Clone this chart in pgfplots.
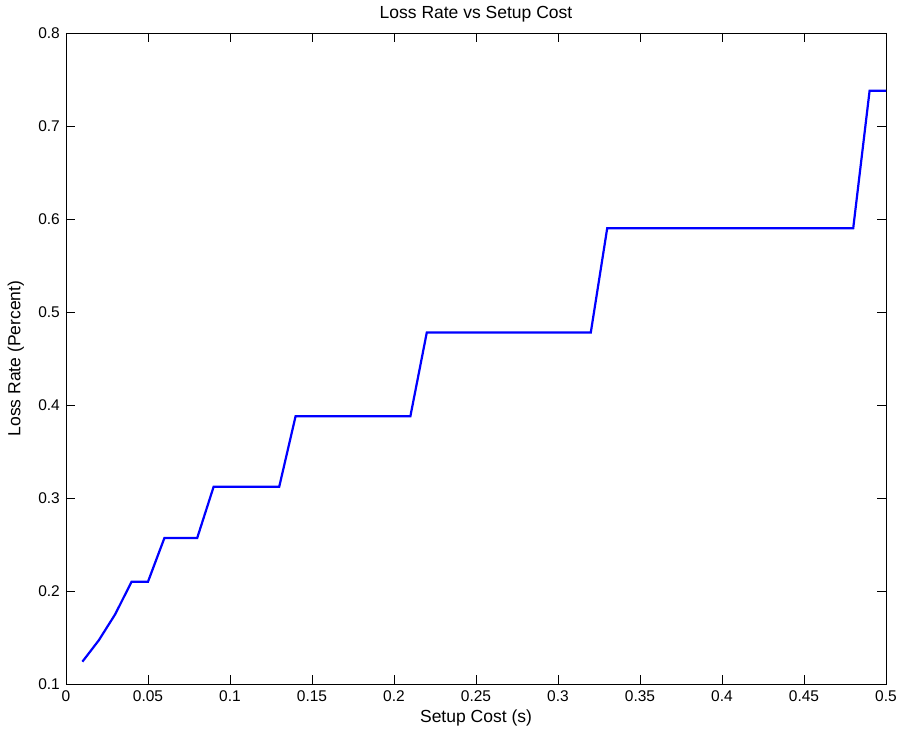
\documentclass[border=0pt]{standalone}
\usepackage{pgfplots}
\pgfplotsset{compat=1.18}
\usepackage{fontspec}
\setmainfont{Liberation Sans}
\begin{document}
\fontsize{15bp}{18bp}\selectfont
\begin{tikzpicture}
\begin{axis}[
  at={(0,0)}, anchor=south west,
  scale only axis,
  width=820bp, height=651bp,
  xmin=0, xmax=0.5, ymin=0.1, ymax=0.8,
  xtick={0,0.05,...,0.5001},
  ytick={0.1,0.2,...,0.8001},
  tick align=inside,
  major tick length=9bp,
  axis line style={line width=0.9bp},
  tick style={line width=0.8bp, black},
  /pgf/number format/assume math mode=true,
  /pgf/number format/fixed,
  /pgf/number format/precision=2,
  ticklabel style={font=\fontsize{15.5bp}{18bp}\selectfont},
  xticklabel style={yshift=-1bp},
  yticklabel style={xshift=-1bp},
  title={Loss Rate vs Setup Cost},
  title style={font=\fontsize{17.5bp}{20bp}\selectfont, yshift=0bp},
  xlabel={Setup Cost (s)},
  ylabel={Loss Rate (Percent)},
  label style={font=\fontsize{17.5bp}{20bp}\selectfont},
  xlabel style={yshift=2bp},
  ylabel style={yshift=4bp},
]
\addplot[color={rgb,1:red,0;green,0;blue,1}, line width=2.2bp, line join=miter] coordinates {
(0.01,0.124) (0.02,0.147) (0.03,0.175) (0.04,0.210) (0.05,0.210)
(0.06,0.257) (0.07,0.257) (0.08,0.257) (0.09,0.312) (0.10,0.312)
(0.11,0.312) (0.12,0.312) (0.13,0.312) (0.14,0.388) (0.15,0.388)
(0.16,0.388) (0.17,0.388) (0.18,0.388) (0.19,0.388) (0.20,0.388)
(0.21,0.388) (0.22,0.478) (0.23,0.478) (0.24,0.478) (0.25,0.478)
(0.26,0.478) (0.27,0.478) (0.28,0.478) (0.29,0.478) (0.30,0.478)
(0.31,0.478) (0.32,0.478) (0.33,0.590) (0.34,0.590) (0.35,0.590)
(0.36,0.590) (0.37,0.590) (0.38,0.590) (0.39,0.590) (0.40,0.590)
(0.41,0.590) (0.42,0.590) (0.43,0.590) (0.44,0.590) (0.45,0.590)
(0.46,0.590) (0.47,0.590) (0.48,0.590) (0.49,0.738) (0.50,0.738)
};
\end{axis}
\useasboundingbox (-66bp,-52bp) rectangle (838bp,684bp);
\end{tikzpicture}
\end{document}
